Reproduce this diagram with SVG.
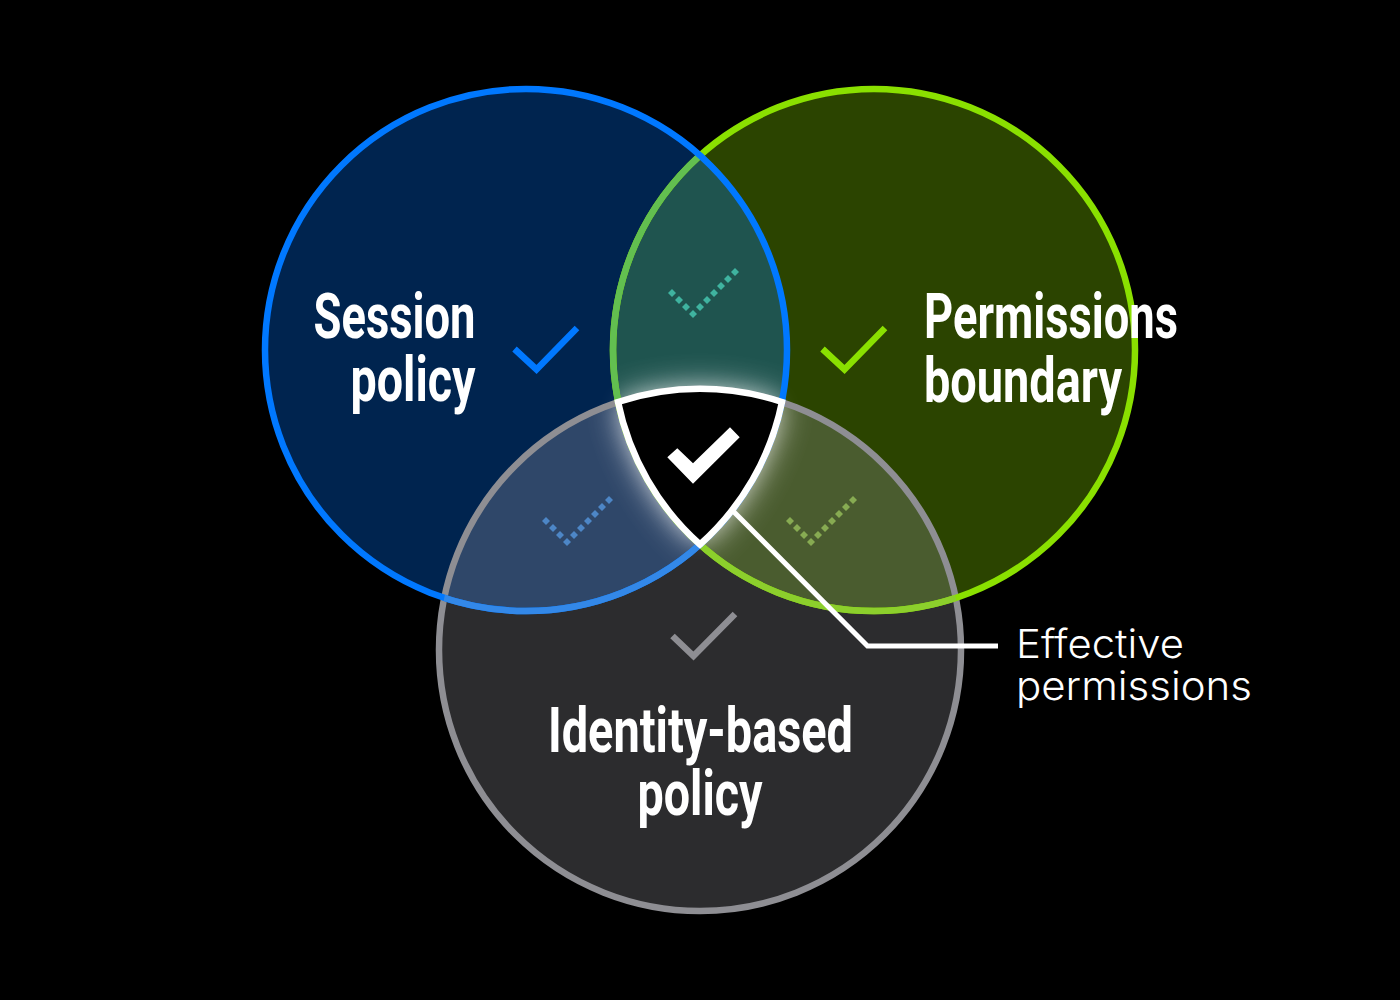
<svg xmlns="http://www.w3.org/2000/svg" xmlns:xlink="http://www.w3.org/1999/xlink" width="1400" height="1000" viewBox="0 0 1400 1000">
<style>
.ring{fill:none;stroke-width:6.5}
.chk{fill:none;stroke-width:6.5;stroke-linejoin:miter}
.big{font-family:"Roboto","Liberation Sans",sans-serif;font-weight:700;font-size:63px;fill:#fff}
.lab{font-family:"Inter","Liberation Sans",sans-serif;font-weight:350;font-size:40px;fill:#fff}
</style>
<defs>
<clipPath id="cb"><circle cx="526" cy="350" r="261"/></clipPath>
<clipPath id="cg"><circle cx="874" cy="350" r="261"/></clipPath>
<clipPath id="cy"><circle cx="700" cy="650" r="261"/></clipPath>
<clipPath id="cbg" clip-path="url(#cb)"><circle cx="874" cy="350" r="261"/></clipPath>
<clipPath id="cby" clip-path="url(#cb)"><circle cx="700" cy="650" r="261"/></clipPath>
<clipPath id="cgy" clip-path="url(#cg)"><circle cx="700" cy="650" r="261"/></clipPath>
<filter id="blur" x="-50%" y="-50%" width="200%" height="200%"><feGaussianBlur stdDeviation="17"/></filter>
<filter id="blur2" x="-50%" y="-50%" width="200%" height="200%"><feGaussianBlur stdDeviation="10"/></filter>
<path id="reu" d="M618,402A261,261 0 0 1 782,402A261,261 0 0 1 700,544.5A261,261 0 0 1 618,402Z"/>
<path id="dots" d="M672,289l4,4l-4,4l-4,-4zM679,296l4,4l-4,4l-4,-4zM686,303l4,4l-4,4l-4,-4zM693,310l4,4l-4,4l-4,-4zM700,303l4,4l-4,4l-4,-4zM707,296l4,4l-4,4l-4,-4zM714,289l4,4l-4,4l-4,-4zM721,282l4,4l-4,4l-4,-4zM728,275l4,4l-4,4l-4,-4zM735,268l4,4l-4,4l-4,-4z"/>
</defs>
<rect width="1400" height="1000" fill="#000"/>
<g id="fills">
<circle cx="874" cy="350" r="261" fill="#2b4400"/>
<circle cx="526" cy="350" r="261" fill="#00244f"/>
<circle cx="700" cy="650" r="261" fill="#2c2c2e"/>
<rect width="1400" height="1000" fill="#1f544f" clip-path="url(#cbg)"/>
<rect width="1400" height="1000" fill="#2f4769" clip-path="url(#cby)"/>
<rect width="1400" height="1000" fill="#4a5c2f" clip-path="url(#cgy)"/>
</g>
<g id="glow">
<g clip-path="url(#cbg)"><use xlink:href="#reu" fill="#fff" opacity=".8" filter="url(#blur)"/></g>
<g clip-path="url(#cby)"><use xlink:href="#reu" fill="#fff" opacity=".8" filter="url(#blur)"/></g>
<g clip-path="url(#cgy)"><use xlink:href="#reu" fill="#fff" opacity=".8" filter="url(#blur)"/></g>
<use xlink:href="#reu" fill="#fff" opacity=".25" filter="url(#blur2)"/>
</g>
<g id="rings">
<circle class="ring" cx="700" cy="650" r="261" stroke="#8e8e93"/>
<circle class="ring" cx="874" cy="350" r="261" stroke="#8ae000"/>
<circle class="ring" cx="874" cy="350" r="261" stroke="#62bf50" clip-path="url(#cb)"/>
<circle class="ring" cx="874" cy="350" r="261" stroke="#8ccf2c" clip-path="url(#cy)"/>
<circle class="ring" cx="526" cy="350" r="261" stroke="#0078ff"/>
<circle class="ring" cx="526" cy="350" r="261" stroke="#3388e8" clip-path="url(#cy)"/>
</g>
<g id="session-policy">
<text class="big" x="475.500" y="337.500" text-anchor="end" textLength="162" lengthAdjust="spacingAndGlyphs">Session</text>
<text class="big" x="475.500" y="401" text-anchor="end" textLength="125" lengthAdjust="spacingAndGlyphs">policy</text>
<path class="chk" stroke="#0078ff" d="M514.500,349L536.500,369.500L577,328"/>
</g>
<g id="permissions-boundary">
<text class="big" x="924" y="337.500" textLength="254" lengthAdjust="spacingAndGlyphs">Permissions</text>
<text class="big" x="924" y="401.500" textLength="198" lengthAdjust="spacingAndGlyphs">boundary</text>
<path class="chk" stroke="#8ae000" d="M822.500,349L844.500,369.500L885,328"/>
</g>
<g id="identity-policy">
<text class="big" x="700.500" y="751.500" text-anchor="middle" textLength="305" lengthAdjust="spacingAndGlyphs">Identity-based</text>
<text class="big" x="700" y="815" text-anchor="middle" textLength="125" lengthAdjust="spacingAndGlyphs">policy</text>
<path class="chk" stroke="#8e8e93" d="M672.500,636L693.500,656L735,614"/>
</g>
<g id="overlap-checks">
<use xlink:href="#dots" fill="#3fb3a0"/>
<use xlink:href="#dots" fill="#4d86c6" transform="translate(-126,228)"/>
<use xlink:href="#dots" fill="#87ab52" transform="translate(118,228)"/>
</g>
<g id="connectors">
<path d="M733,511L867.500,646H998" fill="none" stroke="#fff" stroke-width="5"/>
</g>
<g id="effective-permissions">
<use xlink:href="#reu" fill="#000" stroke="#fff" stroke-width="6.500"/>
<path fill="#fff" d="M667.300,457.300L677.300,448.300L693,463.300L730,427.300L739.700,437.300L693,483.700Z"/>
<text class="lab" x="1016" y="658" textLength="168" lengthAdjust="spacingAndGlyphs">Effective</text>
<text class="lab" x="1016" y="700" textLength="236" lengthAdjust="spacingAndGlyphs">permissions</text>
</g>
</svg>
